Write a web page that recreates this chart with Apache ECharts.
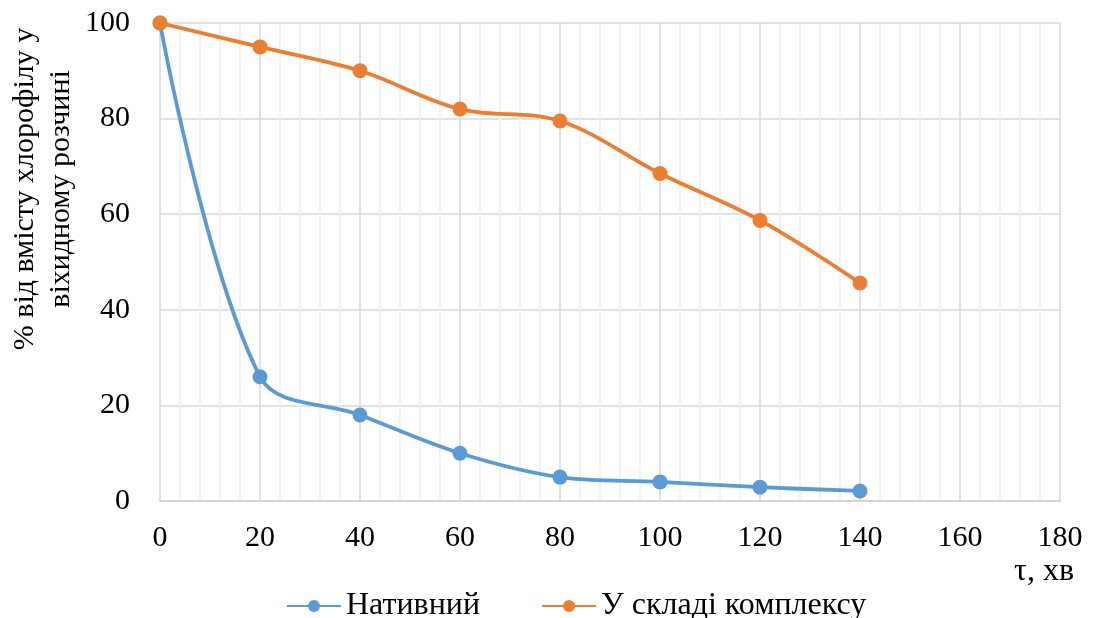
<!DOCTYPE html>
<html>
<head>
<meta charset="utf-8">
<script src="https://cdn.jsdelivr.net/npm/echarts@6/dist/echarts.min.js"></script>
<style>
  html, body { margin: 0; padding: 0; background: #fff; }
  #chart { width: 1093px; height: 618px; }
</style>
</head>
<body>
<div id="chart"></div>
<script>
// Time points, min
const times = [0, 20, 40, 60, 80, 100, 120, 140];
// Chlorophyll retained, % of initial content
const nativeValues = [100, 26, 18, 10, 5, 4, 2.9, 2.1];
const complexValues = [100, 95, 90, 82, 79.5, 68.5, 58.7, 45.6];
const seriesNames = ['Нативний', 'У складі комплексу'];
const xAxisTitle = 'τ, хв';
const yAxisTitle = ['% від вмісту хлорофілу у', 'віхидному розчині'];

const font = 'Liberation Serif';
const pairs = vals => times.map((t, i) => [t, vals[i]]);

const titleText = (text, x, y, size, rotation) => ({
  type: 'text', x, y, rotation,
  style: {
    text, fontFamily: font, fontSize: size, fill: '#000',
    align: 'center', verticalAlign: 'middle'
  }
});

const chart = echarts.init(document.getElementById('chart'));
chart.setOption({
  animation: false,
  textStyle: { fontFamily: font },
  grid: { left: 160, right: 33, top: 23, bottom: 117, containLabel: false },
  xAxis: {
    type: 'value', min: 0, max: 180, interval: 20,
    axisLine: { show: true, lineStyle: { color: '#d0d0d0', width: 1.5 } },
    axisTick: { show: false },
    axisLabel: { color: '#000', fontSize: 30, fontFamily: font, margin: 22 },
    splitLine: { show: true, lineStyle: { color: '#d9d9d9', width: 1.5 } },
    minorTick: { show: false, splitNumber: 5 },
    minorSplitLine: { show: true, lineStyle: { color: '#f0f0f0', width: 1.5 } }
  },
  yAxis: {
    type: 'value', min: 0, max: 100, interval: 20,
    axisLine: { show: false },
    axisTick: { show: false },
    axisLabel: { color: '#000', fontSize: 30, fontFamily: font, margin: 30 },
    splitLine: { show: true, lineStyle: { color: '#d9d9d9', width: 1.5 } }
  },
  legend: {
    top: 585, left: 281,
    itemWidth: 54, itemHeight: 15, itemGap: 61,
    textStyle: { color: '#000', fontSize: 32, fontFamily: font },
    data: seriesNames
  },
  graphic: [
    titleText(xAxisTitle, 1044, 572, 32, 0),
    titleText(yAxisTitle[0], 25, 189, 30, Math.PI / 2),
    titleText(yAxisTitle[1], 61, 189, 30, Math.PI / 2)
  ],
  series: [
    {
      name: seriesNames[0], type: 'line', smooth: 0.35,
      data: pairs(nativeValues),
      symbol: 'circle', symbolSize: 15,
      lineStyle: { color: '#5b9bd5', width: 3.8 },
      itemStyle: { color: '#5b9bd5' }
    },
    {
      name: seriesNames[1], type: 'line', smooth: 0.35,
      data: pairs(complexValues),
      symbol: 'circle', symbolSize: 15,
      lineStyle: { color: '#ed7d31', width: 3.8 },
      itemStyle: { color: '#ed7d31' }
    }
  ]
});
</script>
</body>
</html>
